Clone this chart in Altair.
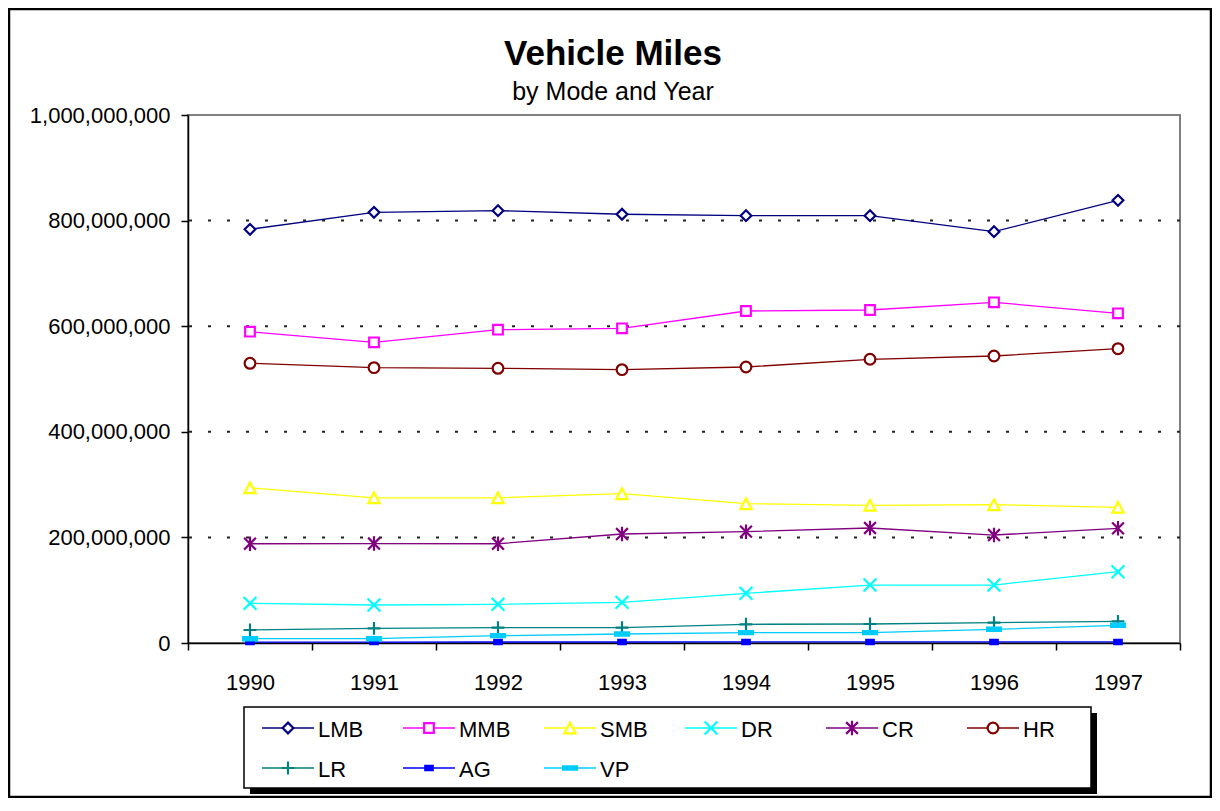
import altair as alt
import pandas as pd

years = [1990, 1991, 1992, 1993, 1994, 1995, 1996, 1997]
series = ["LMB", "MMB", "SMB", "DR", "CR", "HR", "LR", "AG", "VP"]

# vehicle miles, in millions
LMB = [783.5, 815.7, 818.8, 812.0, 809.3, 809.3, 779.0, 838.4]
MMB = [589.6, 569.5, 593.4, 596.0, 628.8, 630.7, 645.2, 624.4]
SMB = [294.0, 275.0, 275.0, 282.8, 263.8, 260.7, 261.9, 257.0]
DR = [75.1, 72.0, 73.3, 77.0, 94.1, 109.8, 109.8, 135.0]
CR = [188.0, 188.4, 188.0, 206.4, 210.8, 217.8, 204.5, 217.2]
HR = [529.7, 521.5, 520.2, 517.7, 522.7, 537.3, 543.6, 557.4]
LR = [24.6, 27.8, 29.0, 29.0, 35.4, 36.0, 38.5, 41.0]
AG = [1.8, 1.8, 1.9, 1.9, 2.0, 2.0, 2.1, 2.1]
VP = [8.2, 8.2, 13.9, 17.0, 19.6, 19.6, 25.9, 33.5]

y_ticks = [0, 200000000, 400000000, 600000000, 800000000, 1000000000]
grid_vals = [200000000, 400000000, 600000000, 800000000]

colors = ["#000080", "#FF00FF", "#FFFF00", "#00FFFF", "#800080",
          "#800000", "#008080", "#0000FF", "#00CCFF"]
fills = ["white", "white", "white", "white", "white",
         "white", "white", "#0000FF", "#00CCFF"]
shapes = [
    "M0,-1L1,0L0,1L-1,0Z",
    "M-0.9,-0.9H0.9V0.9H-0.9Z",
    "M0,-1L1.05,1H-1.05Z",
    "M-1.2,-1.2L1.2,1.2M-1.2,1.2L1.2,-1.2",
    "M-1.1,-1.1L1.1,1.1M-1.1,1.1L1.1,-1.1M0,-1.35V1.35",
    "M1,0A1,1,0,1,1,-1,0A1,1,0,1,1,1,0Z",
    "M-1.2,0H1.2M0,-1.2V1.2",
    "M-0.7,-0.4H0.7V0.4H-0.7Z",
    "M-1.3,-0.3H1.3V0.3H-1.3Z",
]

all_vals = [LMB, MMB, SMB, DR, CR, HR, LR, AG, VP]
rows = []
for name, vals in zip(series, all_vals):
    for yr, v in zip(years, vals):
        rows.append({"series": name, "year": str(yr), "miles": v * 1e6})
df = pd.DataFrame(rows)
grid_df = pd.DataFrame({"miles": grid_vals})

leg = pd.DataFrame({
    "series": series,
    "col": [i % 6 for i in range(len(series))],
    "row": [i // 6 for i in range(len(series))],
})

FONT = "Liberation Sans"

stroke_enc = alt.Stroke("series:N", scale=alt.Scale(domain=series, range=colors), legend=None)
shape_enc = alt.Shape("series:N", scale=alt.Scale(domain=series, range=shapes), legend=None)
fill_enc = alt.Fill("series:N", scale=alt.Scale(domain=series, range=fills), legend=None)

xscale = alt.Scale(type="band", domain=[str(y) for y in years], paddingInner=0, paddingOuter=0)
yscale = alt.Scale(domain=[0, 1000000000], nice=False)

x_enc = alt.X(
    "year:O", scale=xscale, bandPosition=0.5,
    axis=alt.Axis(
        title=None, labelAngle=0, labelFontSize=22, labelColor="black", labelFont=FONT,
        tickColor="black", tickSize=7, tickWidth=1.5, tickBand="extent",
        domainColor="black", domainWidth=1.5, labelPadding=22, grid=False,
    ),
)
y_enc = alt.Y(
    "miles:Q", scale=yscale,
    axis=alt.Axis(
        title=None, values=y_ticks, format=",d", labelFontSize=22, labelColor="black",
        labelFont=FONT, tickColor="black", tickSize=7, tickWidth=1.5,
        domainColor="black", domainWidth=1.5, labelPadding=11, grid=False,
    ),
)
x_nax = alt.X("year:O", scale=xscale, bandPosition=0.5, axis=None)
y_nax = alt.Y("miles:Q", scale=yscale, axis=None)

grid = alt.Chart(grid_df).mark_rule(color="#222222", strokeWidth=2, strokeDash=[3, 16]).encode(
    y=y_nax
)
lines = alt.Chart(df).mark_line(strokeWidth=1.3).encode(
    x=x_enc, y=y_enc, stroke=stroke_enc, detail="series:N"
)
points = alt.Chart(df).mark_point(filled=True, size=115, strokeWidth=2.2, opacity=1).encode(
    x=x_nax, y=y_nax, stroke=stroke_enc, fill=fill_enc, shape=shape_enc
)

# legend (own scales, placed below the plot)
lx = alt.X("col:Q", scale=alt.Scale(domain=[0, 5], range=[100, 805]), axis=None)
ly = alt.Y("row:Q", scale=alt.Scale(domain=[0, 1], range=[613, 653]), axis=None)

one = alt.Data(values=[{"k": 1}])
shadow = alt.Chart(one).mark_rect(fill="black").encode(
    x=alt.value(62), x2=alt.value(909), y=alt.value(598), y2=alt.value(679)
)
box = alt.Chart(one).mark_rect(fill="white", stroke="black", strokeWidth=1.5).encode(
    x=alt.value(56), x2=alt.value(903), y=alt.value(592), y2=alt.value(673)
)
leg_lines = alt.Chart(leg).mark_point(shape="M-1,0H1", size=2704, strokeWidth=1.3,
                                      filled=False, opacity=1).encode(
    x=lx, y=ly, stroke=stroke_enc
)
leg_marks = alt.Chart(leg).mark_point(filled=True, size=115, strokeWidth=2.2, opacity=1).encode(
    x=lx, y=ly, stroke=stroke_enc, fill=fill_enc, shape=shape_enc
)
leg_text = alt.Chart(leg).mark_text(align="left", baseline="middle", fontSize=22,
                                    font=FONT, dx=30, dy=2, color="black").encode(
    x=lx, y=ly, text="series:N"
)

frame = alt.Chart(one).mark_rect(fill=None, stroke="black", strokeWidth=2.5).encode(
    x=alt.value(-179), x2=alt.value(1023), y=alt.value(-106), y2=alt.value(682)
)

chart = alt.layer(
    grid, lines, points, shadow, box, leg_lines, leg_marks, leg_text, frame
).resolve_scale(
    x="independent", y="independent"
).properties(
    width=992,
    height=528,
    autosize=alt.AutoSizeParams(type="none"),
    padding={"left": 180, "top": 107, "right": 32, "bottom": 155},
    title=alt.TitleParams(
        text="Vehicle Miles", subtitle="by Mode and Year",
        font=FONT, fontSize=35, fontWeight="bold", color="black",
        subtitleFont=FONT, subtitleFontSize=25, subtitleColor="black",
        subtitlePadding=8, anchor="middle", frame="group", dx=-71, offset=-97,
    ),
).configure(
    font=FONT, background="white"
).configure_view(
    stroke="#808080", strokeWidth=2
)

chart.save("out.html", embed_options={"renderer": "svg", "actions": False})
